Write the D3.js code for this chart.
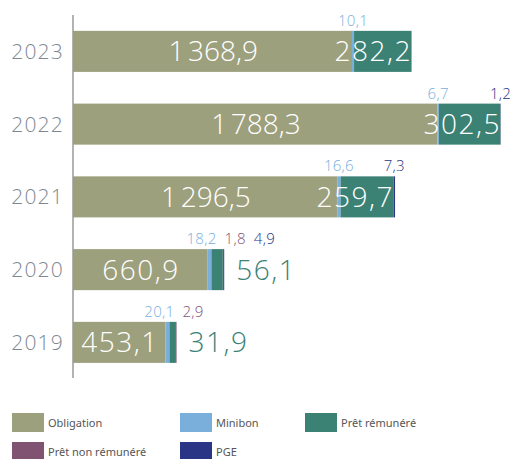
<!DOCTYPE html>
<meta charset="utf-8">
<script src="https://d3js.org/d3.v7.min.js"></script>
<style>
  body { margin: 0; background: #fff; }
</style>
<body>
  <div id="container"></div>
</body>
<script>
    // data
    var years = ["2023", "2022", "2021", "2020", "2019"];
    var series = ["Obligation", "Minibon", "Prêt rémunéré", "Prêt non rémunéré", "PGE"];
    var obligation = [1368.9, 1788.3, 1296.5, 660.9, 453.1];
    var minibon = [10.1, 6.7, 16.6, 18.2, 20.1];
    var pretRemunere = [282.2, 302.5, 259.7, 56.1, 31.9];
    var pretNonRemunere = [0, 0, 0, 1.8, 2.9];
    var pge = [0, 1.2, 7.3, 4.9, 0];

    var colors = ["#9da07d", "#7aafdc", "#3b8275", "#805373", "#2a3585"];
    var legendOrder = ["Obligation", "Minibon", "Prêt rémunéré", "Prêt non rémunéré", "PGE"];

    var width = 512, height = 459;

    // segments drawn in this order along the bar
    var stackOrder = ["Obligation", "Minibon", "Prêt rémunéré", "Prêt non rémunéré", "PGE"];
    var values = {
      "Obligation": obligation,
      "Minibon": minibon,
      "Prêt rémunéré": pretRemunere,
      "Prêt non rémunéré": pretNonRemunere,
      "PGE": pge
    };
    var table = years.map(function(y, i) {
      var row = {year: y};
      stackOrder.forEach(function(s) { row[s] = values[s][i]; });
      return row;
    });
    var stacked = d3.stack().keys(stackOrder)(table);

    var color = d3.scaleOrdinal().domain(series).range(colors);

    var svg = d3.select("#container")
      .append("svg")
      .attr("width", width)
      .attr("height", height);

    var x = d3.scaleLinear()
      .domain([0, 2100])
      .range([73, 501]);

    var y = d3.scaleBand()
      .domain(years)
      .range([15, 378.75])
      .paddingInner(0.436)
      .paddingOuter(0.218);

    var fmt = function(v) {
      var s = d3.format(",.1f")(v);
      return s.replace(/,/g, "\u202f").replace(".", ",");
    };

    // bars
    svg.append("g")
      .selectAll("g")
      .data(stacked)
      .enter()
      .append("g")
        .attr("fill", function(d) { return color(d.key); })
      .selectAll("rect")
      .data(function(d) { return d; })
      .enter()
      .append("rect")
        .attr("x", function(d) { return x(d[0]); })
        .attr("y", function(d) { return y(d.data.year); })
        .attr("width", function(d) { return x(d[1]) - x(d[0]); })
        .attr("height", y.bandwidth());

    // y axis line + year labels
    svg.append("line")
      .attr("x1", 73).attr("x2", 73)
      .attr("y1", 15).attr("y2", 378)
      .attr("stroke", "#9a9a9a")
      .attr("stroke-width", 1.5);

    var numFont = "'Open Sans', 'Noto Sans', sans-serif";

    svg.append("g")
      .selectAll("text")
      .data(years)
      .enter()
      .append("text")
        .attr("x", 64)
        .attr("y", function(d) { return y(d) + y.bandwidth() / 2; })
        .attr("dy", "0.36em")
        .attr("text-anchor", "end")
        .attr("font-family", numFont)
        .attr("font-weight", 300)
        .attr("font-size", 21)
        .attr("letter-spacing", 1.2)
        .attr("fill", "#7e8891")
        .text(function(d) { return d; });

    var bigFont = 28, bigSpace = 1.5;
    var labels = svg.append("g")
      .attr("font-family", numFont)
      .attr("font-weight", 300);

    table.forEach(function(row, i) {
      var cy = y(row.year) + y.bandwidth() / 2;
      var stackOf = function(k) { return stacked[stackOrder.indexOf(k)][i]; };

      // obligation label, centred in bar
      var ob = stackOf("Obligation");
      labels.append("text")
        .attr("x", (x(ob[0]) + x(ob[1])) / 2 + bigSpace / 2)
        .attr("y", cy).attr("dy", "0.36em")
        .attr("text-anchor", "middle")
        .attr("font-size", bigFont)
        .attr("letter-spacing", bigSpace)
        .attr("fill", "#fff")
        .text(fmt(row["Obligation"]));

      // prêt rémunéré: inside (right aligned) if wide, else outside the bar
      var pr = stackOf("Prêt rémunéré");
      var barEnd = x(stacked[stacked.length - 1][i][1]);
      if (x(pr[1]) - x(pr[0]) > 40) {
        labels.append("text")
          .attr("x", x(pr[1]) - 1 + bigSpace)
          .attr("y", cy).attr("dy", "0.36em")
          .attr("text-anchor", "end")
          .attr("font-size", bigFont)
          .attr("letter-spacing", bigSpace)
          .attr("fill", "#fff")
          .text(fmt(row["Prêt rémunéré"]));
      } else {
        labels.append("text")
          .attr("x", barEnd + 12)
          .attr("y", cy).attr("dy", "0.36em")
          .attr("font-size", bigFont)
          .attr("letter-spacing", bigSpace)
          .attr("fill", color("Prêt rémunéré"))
          .text(fmt(row["Prêt rémunéré"]));
      }

      // small labels above the bar
      var small = ["Minibon", "Prêt non rémunéré", "PGE"].filter(function(k) { return row[k] > 0; });
      var nodes = small.map(function(k) {
        var s = stackOf(k);
        return labels.append("text")
          .attr("y", y(row.year) - 5)
          .attr("text-anchor", "middle")
          .attr("font-size", 15)
          .attr("letter-spacing", 0.3)
          .attr("fill", color(k))
          .text(fmt(row[k]))
          .datum((x(s[0]) + x(s[1])) / 2);
      });
      // push overlapping labels to the right
      var prevEnd = -Infinity, moved = false;
      nodes.forEach(function(n) {
        var w = n.node().getComputedTextLength();
        var cx = n.datum();
        if (cx - w / 2 < prevEnd + 8) { cx = prevEnd + 8 + w / 2; moved = true; }
        n.attr("x", cx);
        n.datum(cx);
        prevEnd = cx + w / 2;
      });
      if (moved) nodes.forEach(function(n) { n.attr("x", n.datum() - 8); });
    });

    // legend
    var legend = svg.append("g")
      .attr("font-family", "Noto Sans")
      .attr("font-size", 11)
      .attr("fill", "#555");
    var legX = [12, 180, 305];
    var legY = [413, 442];
    legendOrder.forEach(function(k, i) {
      var lx = legX[i % 3], ly = legY[Math.floor(i / 3)];
      legend.append("rect")
        .attr("x", lx).attr("y", ly)
        .attr("width", 32).attr("height", 19)
        .attr("fill", color(k));
      legend.append("text")
        .attr("x", lx + 36).attr("y", ly + 10)
        .attr("dy", "0.35em")
        .text(k);
    });
</script>
